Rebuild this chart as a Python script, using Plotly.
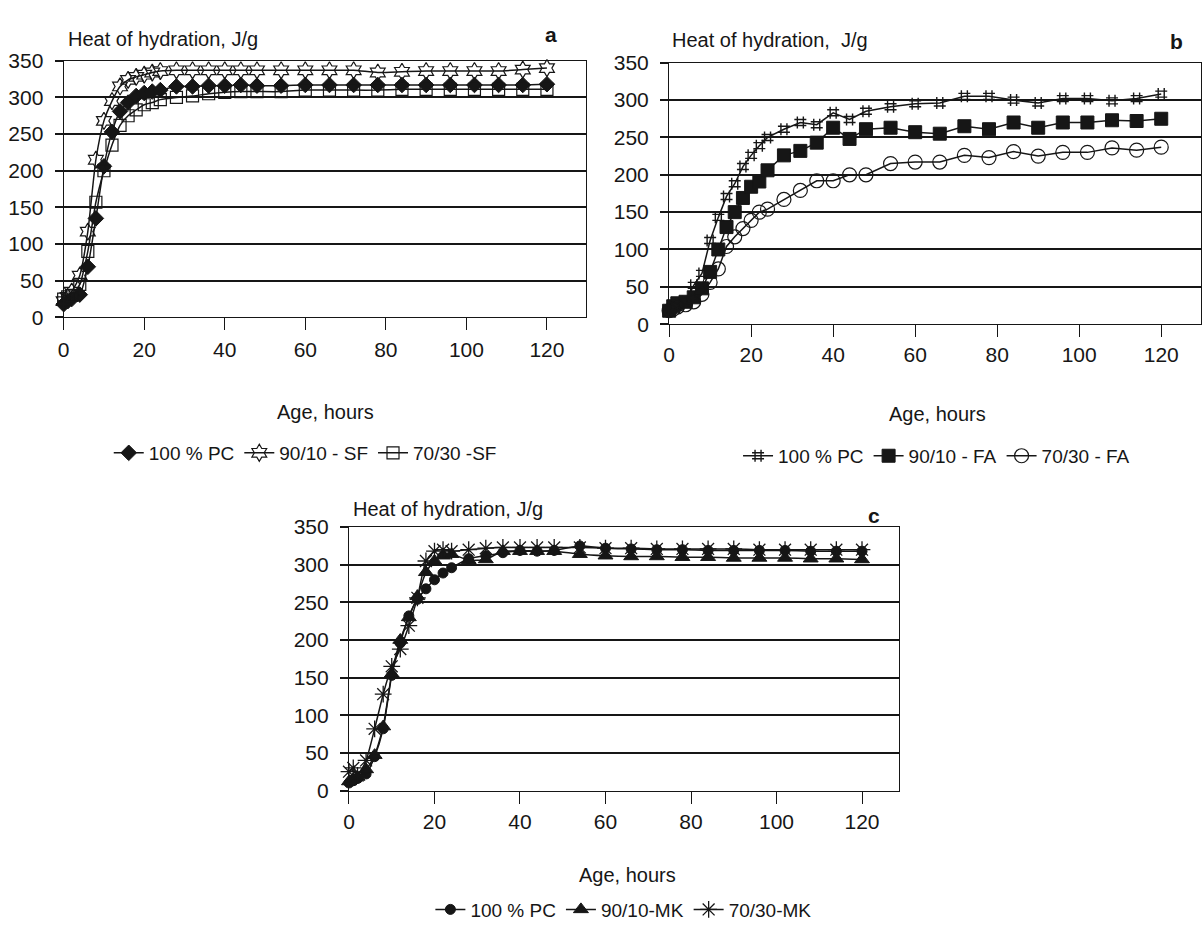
import plotly.graph_objects as go

# ---------------- data ----------------
hours = [0, 1, 2, 4, 6, 8, 10, 12, 14, 16, 18, 20, 22, 24, 28, 32, 36, 40, 44, 48,
         54, 60, 66, 72, 78, 84, 90, 96, 102, 108, 114, 120]

# panel a (silica fume)
a_pc = [18, 22, 25, 31, 69, 135, 206, 253, 281, 293, 302, 306, 308, 310, 315, 315, 316, 316, 317, 316,
        316, 317, 317, 317, 317, 317, 317, 317, 317, 317, 317, 318]
a_sf10 = [22, 28, 35, 57, 117, 215, 268, 295, 315, 324, 328, 331, 334, 336, 337, 337, 337, 337, 337, 337,
          337, 337, 337, 337, 334, 335, 336, 336, 336, 336, 338, 340]
a_sf30 = [25, 28, 30, 45, 90, 157, 200, 235, 262, 275, 283, 290, 293, 297, 300, 302, 305, 307, 308, 308,
          308, 310, 310, 310, 310, 311, 311, 311, 311, 311, 311, 311]

# panel b (fly ash)
b_pc = [18, 22, 25, 30, 52, 68, 112, 143, 171, 188, 211, 226, 239, 250, 261, 270, 267, 283, 274, 285,
        291, 295, 296, 305, 305, 300, 296, 302, 302, 299, 302, 308]
b_fa10 = [18, 24, 28, 30, 36, 48, 70, 100, 130, 150, 169, 184, 191, 206, 226, 232, 243, 263, 248, 261,
          263, 257, 255, 265, 261, 270, 263, 270, 270, 273, 272, 275]
b_fa30 = [18, 20, 23, 26, 30, 40, 56, 74, 104, 117, 128, 139, 150, 154, 167, 179, 192, 192, 200, 200,
          215, 217, 217, 226, 223, 231, 225, 230, 230, 236, 233, 237]

# panel c (metakaolin)
c_pc = [10, 13, 16, 22, 45, 82, 153, 196, 232, 254, 268, 280, 289, 296, 308, 312, 316, 319, 318, 319,
        325, 322, 321, 320, 320, 319, 319, 319, 319, 318, 318, 318]
c_mk10 = [12, 15, 18, 28, 47, 85, 155, 200, 230, 258, 290, 305, 312, 314, 306, 307, 318, 318, 318, 318,
          314, 312, 311, 311, 310, 310, 309, 309, 309, 308, 308, 307]
c_mk30 = [25, 30, 20, 40, 82, 128, 165, 188, 219, 256, 305, 318, 320, 318, 320, 322, 323, 323, 323, 323,
          323, 322, 322, 321, 321, 321, 321, 320, 320, 320, 320, 320]

x_ticks = [0, 20, 40, 60, 80, 100, 120]
y_ticks = [0, 50, 100, 150, 200, 250, 300, 350]
y_title = "Heat of hydration, J/g"
y_title_b = "Heat of hydration,  J/g"
x_title = "Age, hours"

names_a = ["100 % PC", "90/10 - SF", "70/30 -SF"]
names_b = ["100 % PC", "90/10 - FA", "70/30 - FA"]
names_c = ["100 % PC", "90/10-MK", "70/30-MK"]

# ---------------- style ----------------
W, H = 1202, 942
FONT = "Liberation Sans, Arial, sans-serif"
INK = "#161616"

def px_x(p):
    return p / W

def px_y(p):
    return 1 - p / H

fig = go.Figure()

panels = [
    dict(sfx="", leg="legend", x0=58, x1=583, yt=50, yb=313, xmax=129.6, spline=True,
         series=[(a_pc, names_a[0], dict(symbol="diamond", size=12, color=INK, line=dict(width=1, color=INK))),
                 (a_sf10, names_a[1], dict(symbol="hexagram-open", size=13, color=INK, line=dict(width=1.2, color=INK))),
                 (a_sf30, names_a[2], dict(symbol="square-open", size=12, color=INK, line=dict(width=1.2, color=INK)))]),
    dict(sfx="2", leg="legend2", x0=667, x1=1202, yt=52, yb=320, xmax=129.7, spline=False,
         series=[(b_pc, names_b[0], dict(symbol="hash-open", size=12, color=INK, line=dict(width=1.4, color=INK))),
                 (b_fa10, names_b[1], dict(symbol="square", size=13, color=INK, line=dict(width=1, color=INK))),
                 (b_fa30, names_b[2], dict(symbol="circle-open", size=14, color=INK, line=dict(width=1.2, color=INK)))]),
    dict(sfx="3", leg="legend3", x0=345, x1=898, yt=528, yb=798, xmax=128.6, spline=True,
         series=[(c_pc, names_c[0], dict(symbol="circle", size=10, color=INK, line=dict(width=1, color=INK))),
                 (c_mk10, names_c[1], dict(symbol="triangle-up", size=13, color=INK, line=dict(width=1, color=INK))),
                 (c_mk30, names_c[2], dict(symbol="asterisk-open", size=14, color=INK, line=dict(width=1.3, color=INK)))]),
]

for p in panels:
    for vals, name, mk in p["series"]:
        fig.add_trace(go.Scatter(
            x=hours, y=vals, name=name, mode="lines+markers",
            xaxis="x" + p["sfx"], yaxis="y" + p["sfx"], legend=p["leg"],
            line=dict(color=INK, width=1.5, shape="spline" if p["spline"] else "linear", smoothing=0.6),
            marker=mk, cliponaxis=False,
        ))

layout = dict(
    width=W, height=H, margin=dict(l=0, r=0, t=0, b=0),
    paper_bgcolor="white", plot_bgcolor="white",
    font=dict(family=FONT, size=20, color=INK),
    annotations=[],
)

label_stand = {"": 1, "2": 0, "3": 0}
for p in panels:
    s = p["sfx"]
    layout["xaxis" + s] = dict(
        domain=[px_x(p["x0"]), px_x(p["x1"])], range=[0, p["xmax"]],
        anchor="y" + s, tickvals=x_ticks, ticks="outside", ticklen=12, tickwidth=1.3,
        tickcolor=INK, showgrid=False, zeroline=False, showline=True, linecolor=INK,
        linewidth=1.2, mirror=True, tickfont=dict(size=21), ticklabelstandoff=label_stand[s],
    )
    layout["yaxis" + s] = dict(
        domain=[px_y(p["yb"]), px_y(p["yt"])], range=[0, 350],
        anchor="x" + s, tickvals=y_ticks, ticks="outside", ticklen=8, tickwidth=1.8,
        tickcolor=INK, showgrid=True, gridcolor=INK, gridwidth=1.8, zeroline=False,
        showline=True, linecolor=INK, linewidth=1.2, mirror=True,
        tickfont=dict(size=21), ticklabelstandoff=7,
    )

ann = layout["annotations"]
def add_text(txt, x, y, size=20, anchor="center", bold=False):
    ann.append(dict(text=("<b>%s</b>" % txt) if bold else txt, x=px_x(x), y=px_y(y),
                    xref="paper", yref="paper", xanchor=anchor, yanchor="middle",
                    showarrow=False, font=dict(size=size, family=FONT, color=INK)))

add_text(y_title, 60, 28, anchor="left")
add_text(y_title_b, 668, 29, anchor="left")
add_text(y_title, 347, 509, anchor="left")
add_text("a", 548, 23, size=21, bold=True)
add_text("b", 1177, 30, size=21, bold=True)
add_text("c", 873, 516, size=21, bold=True)
add_text(x_title, 321, 410)
add_text(x_title, 937, 412)
add_text(x_title, 625, 885)

leg_common = dict(orientation="h", xanchor="center", yanchor="middle", itemwidth=30,
                  font=dict(size=19, family=FONT, color=INK), bgcolor="rgba(0,0,0,0)",
                  traceorder="normal", itemclick=False)
layout["legend"] = dict(leg_common, x=px_x(301), y=px_y(452))
layout["legend2"] = dict(leg_common, x=px_x(936), y=px_y(455))
layout["legend3"] = dict(leg_common, x=px_x(621), y=px_y(920))
layout["showlegend"] = True

fig.update_layout(**layout)
fig.write_html("out.html")
